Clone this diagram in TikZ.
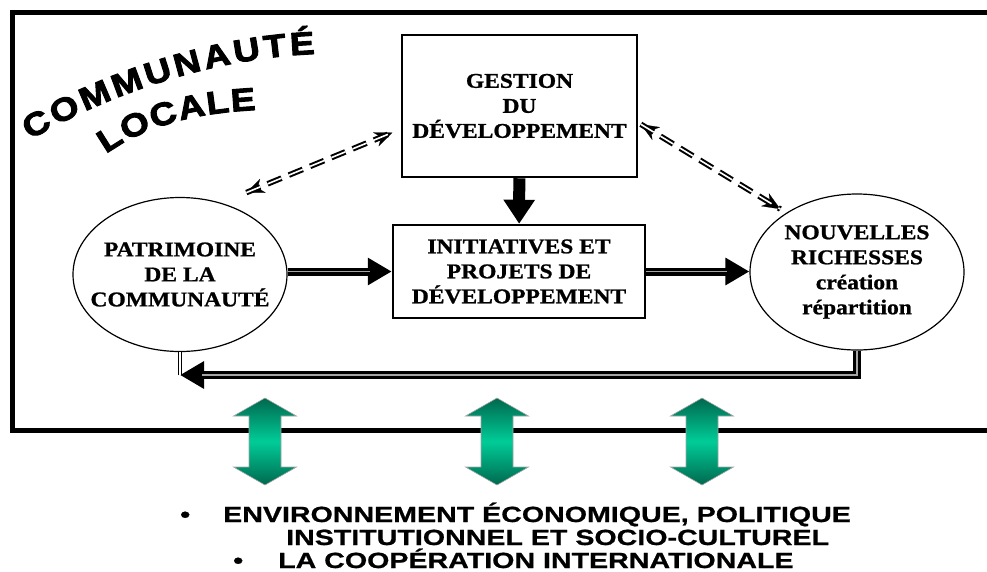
\documentclass[tikz,border=0pt]{standalone}
\usepackage{fontspec}
\setmainfont{Liberation Serif}
\newfontfamily\boxfont{Liberation Serif}[UprightFont=* Bold,FakeStretch=1.12,FakeBold=1]
\newfontfamily\titlefont{Liberation Sans}[UprightFont=* Bold,FakeStretch=1.15,FakeBold=3]
\newfontfamily\envfont{Liberation Sans}[UprightFont=* Bold,FakeStretch=1.3,FakeBold=0.8]
\usetikzlibrary{arrows.meta,decorations.text,shapes.geometric}

\definecolor{vertfonce}{RGB}{0,104,78}
\definecolor{vertclair}{RGB}{0,204,152}

\tikzset{
  boite/.style={draw, line width=2.5pt, inner sep=0pt, align=center,
    font=\boxfont\fontsize{21}{25}\selectfont},
  bulle/.style={ellipse, draw, line width=1.2pt, minimum width=214pt, inner sep=0pt},
  bulletexte/.style={align=center, inner sep=0pt,
    font=\boxfont\fontsize{21}{25}\selectfont},
  fleche/.style={line width=8pt, -{Triangle[length=24pt,width=26pt]},
    postaction={draw=gray!70, line width=1.2pt, arrows=-, shorten >=22pt}},
  pointille/.style={line width=2pt, double=white, double distance=1.6pt,
    dash pattern=on 15pt off 8pt,
    preaction={draw=white, line width=0.2pt, solid,
      {Stealth[black,length=18pt,width=15pt]}-{Stealth[black,length=18pt,width=15pt]}}},
  envtexte/.style={anchor=base west, inner sep=0pt,
    font=\envfont\fontsize{22}{22}\selectfont},
}

\begin{document}
\begin{tikzpicture}[x=1pt,y=-1pt]
\useasboundingbox (0,0) rectangle (987,571);
% Frame
\draw[line width=5pt] (987,12) -- (12,12) -- (12,430) -- (987,430);
% Title
\path[decorate, decoration={text along path, text align=fit to path,
  text={|\titlefont\fontsize{32}{32}\selectfont|COMMUNAUTÉ}}]
  (30,140) .. controls (105,96) and (210,58) .. (315,54);
\path[decorate, decoration={text along path, text align=fit to path,
  text={|\titlefont\fontsize{32}{32}\selectfont|LOCALE}}]
  (106,154) .. controls (145,126) and (195,113) .. (256,110);
% Boxes and bubbles
\node[boite, minimum width=235pt, minimum height=142pt] (gestion) at (519.5,106)
  {GESTION\\DU\\DÉVELOPPEMENT};
\node[boite, minimum width=252pt, minimum height=93pt] (initiatives) at (519,271.5)
  {INITIATIVES ET\\PROJETS DE\\DÉVELOPPEMENT};
\node[bulle, minimum height=154pt] (patrimoine) at (180,274.5) {};
\node[bulletexte] (patrimoine-txt) at (patrimoine.center) {PATRIMOINE\\DE LA\\COMMUNAUTÉ};
\node[bulle, minimum height=156pt] (richesses) at (857,272) {};
\node[bulletexte] (richesses-txt) at (richesses.center)
  {NOUVELLES\\RICHESSES\\création\\répartition};
\coordinate (coin) at (180,375);
% Arrows
\draw[line width=12pt, -{Triangle[length=24pt,width=30pt]}] (gestion) -- (initiatives);
\draw[fleche] (patrimoine.east |- initiatives.west) -- (initiatives.west);
\draw[fleche] (initiatives.east) -- (richesses.west |- initiatives.east);
\draw[fleche] (richesses.south) |- (coin);
\draw[line width=1pt, double=white, double distance=2.5pt] (coin) -- (patrimoine.south);
\draw[pointille, shorten <=27pt, shorten >=9pt] (patrimoine.60) -- (gestion.191);
\draw[pointille, shorten <=3pt, shorten >=7pt] (gestion.-8) -- (richesses.140);
% Green arrows
\foreach \x in {265,497,702}
  \shadedraw[top color=vertfonce, bottom color=vertfonce, middle color=vertclair,
    draw=gray!70, line width=0.6pt]
    (\x,398) -- ++(31.5,18) -- ++(-15.5,0) -- ++(0,51) -- ++(15.5,0) -- ++(-31.5,18)
    -- ++(-31.5,-18) -- ++(15.5,0) -- ++(0,-51) -- ++(-15.5,0) -- cycle;
% Environment
\node[envtexte] (puce1) at (180,522) {•};
\node[envtexte] (env1) at (223,522) {ENVIRONNEMENT ÉCONOMIQUE, POLITIQUE};
\node[envtexte] (env2) at (286,545) {INSTITUTIONNEL ET SOCIO-CULTUREL};
\node[envtexte] (puce2) at (233,568) {•};
\node[envtexte] (env3) at (278,568) {LA COOPÉRATION INTERNATIONALE};
\end{tikzpicture}
\end{document}
